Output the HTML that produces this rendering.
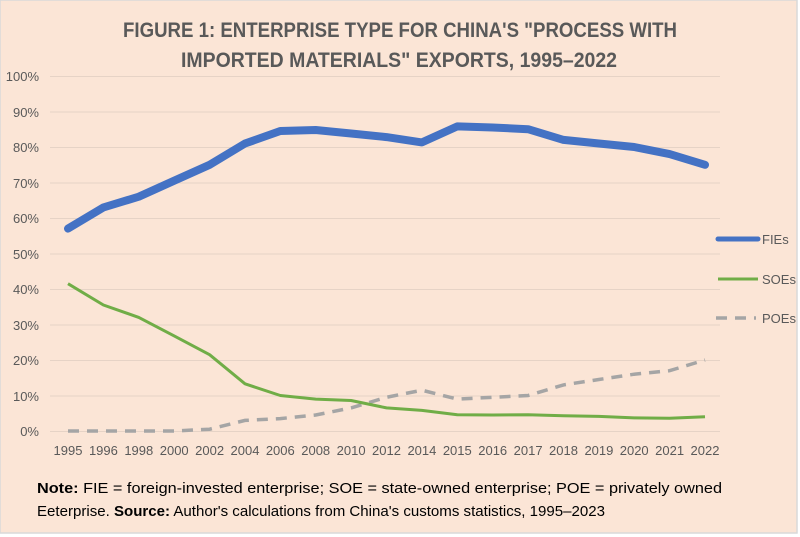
<!DOCTYPE html>
<html><head><meta charset="utf-8"><style>
html,body{margin:0;padding:0;background:#fff;}
svg{display:block;font-family:"Liberation Sans",sans-serif;}
</style></head><body>
<svg width="800" height="537" viewBox="0 0 800 537" xmlns="http://www.w3.org/2000/svg">
<rect x="0" y="0" width="797" height="533" fill="#fbe5d6" stroke="#d9d9d9" stroke-width="1.5"/>
<text x="400" y="37" text-anchor="middle" font-size="21" font-weight="bold" fill="#595959" textLength="554" lengthAdjust="spacingAndGlyphs">FIGURE 1: ENTERPRISE TYPE FOR CHINA'S "PROCESS WITH</text>
<text x="399" y="67" text-anchor="middle" font-size="21" font-weight="bold" fill="#595959" textLength="436" lengthAdjust="spacingAndGlyphs">IMPORTED MATERIALS" EXPORTS, 1995–2022</text>
<g stroke="#e6d3c6" stroke-width="1">
<line x1="50" x2="720" y1="76.5" y2="76.5"/><line x1="50" x2="720" y1="112" y2="112"/><line x1="50" x2="720" y1="147.5" y2="147.5"/><line x1="50" x2="720" y1="183" y2="183"/><line x1="50" x2="720" y1="218.5" y2="218.5"/><line x1="50" x2="720" y1="254" y2="254"/><line x1="50" x2="720" y1="289.5" y2="289.5"/><line x1="50" x2="720" y1="325" y2="325"/><line x1="50" x2="720" y1="360.5" y2="360.5"/><line x1="50" x2="720" y1="396" y2="396"/><line x1="50" x2="720" y1="431.5" y2="431.5"/>
</g>
<g font-size="13" fill="#595959" text-anchor="end">
<text x="39" y="81">100%</text><text x="39" y="117">90%</text><text x="39" y="152">80%</text><text x="39" y="188">70%</text><text x="39" y="223">60%</text><text x="39" y="259">50%</text><text x="39" y="294">40%</text><text x="39" y="330">30%</text><text x="39" y="365">20%</text><text x="39" y="401">10%</text><text x="39" y="436">0%</text>
</g>
<g font-size="13" fill="#595959" text-anchor="middle">
<text x="68" y="455">1995</text><text x="103.4" y="455">1996</text><text x="138.8" y="455">1998</text><text x="174.2" y="455">2000</text><text x="209.6" y="455">2002</text><text x="245" y="455">2004</text><text x="280.3" y="455">2006</text><text x="315.7" y="455">2008</text><text x="351.1" y="455">2010</text><text x="386.5" y="455">2012</text><text x="421.9" y="455">2014</text><text x="457.3" y="455">2015</text><text x="492.7" y="455">2016</text><text x="528.1" y="455">2017</text><text x="563.5" y="455">2018</text><text x="598.9" y="455">2019</text><text x="634.2" y="455">2020</text><text x="669.6" y="455">2021</text><text x="705" y="455">2022</text>
</g>
<polyline fill="none" stroke="#a5a5a5" stroke-width="3.5" stroke-dasharray="11,8" points="68,431 103.4,431 138.8,431 174.2,431 209.6,429.2 245,420.4 280.3,418.6 315.7,415 351.1,407.9 386.5,397.3 421.9,390.2 457.3,399.1 492.7,397.3 528.1,395.5 563.5,384.9 598.9,379.5 634.2,374.2 669.6,370.7 705,360"/>
<polyline fill="none" stroke="#70ad47" stroke-width="3" stroke-linejoin="round" points="68,283.7 103.4,305 138.8,317.4 174.2,335.9 209.6,354.7 245,383.8 280.3,395.5 315.7,399.1 351.1,400.5 386.5,407.9 421.9,410.4 457.3,414.7 492.7,415 528.1,414.7 563.5,415.7 598.9,416.4 634.2,417.9 669.6,418.2 705,416.8"/>
<polyline fill="none" stroke="#4472c4" stroke-width="8" stroke-linejoin="round" stroke-linecap="round" points="68,228.6 103.4,207.4 138.8,196.7 174.2,180.7 209.6,164.8 245,143.5 280.3,131 315.7,130 351.1,133.5 386.5,137.1 421.9,142.4 457.3,126.4 492.7,127.5 528.1,129.2 563.5,139.9 598.9,143.5 634.2,147 669.6,154.1 705,164.8"/>
<line x1="718" x2="758" y1="239" y2="239" stroke="#4472c4" stroke-width="5" stroke-linecap="round"/>
<line x1="718" x2="758" y1="279" y2="279" stroke="#70ad47" stroke-width="3"/>
<line x1="716" x2="756" y1="318" y2="318" stroke="#a5a5a5" stroke-width="3.5" stroke-dasharray="11,8"/>
<g font-size="13" fill="#595959">
<text x="762" y="244">FIEs</text><text x="762" y="284">SOEs</text><text x="762" y="323">POEs</text>
</g>
<text x="37" y="493" font-size="15" fill="#000" textLength="685" lengthAdjust="spacingAndGlyphs"><tspan font-weight="bold">Note:</tspan> FIE = foreign-invested enterprise; SOE = state-owned enterprise; POE = privately owned</text>
<text x="37" y="516" font-size="15" fill="#000" textLength="568" lengthAdjust="spacingAndGlyphs">Eeterprise. <tspan font-weight="bold">Source:</tspan> Author's calculations from China's customs statistics, 1995–2023</text>
</svg>
</body></html>
